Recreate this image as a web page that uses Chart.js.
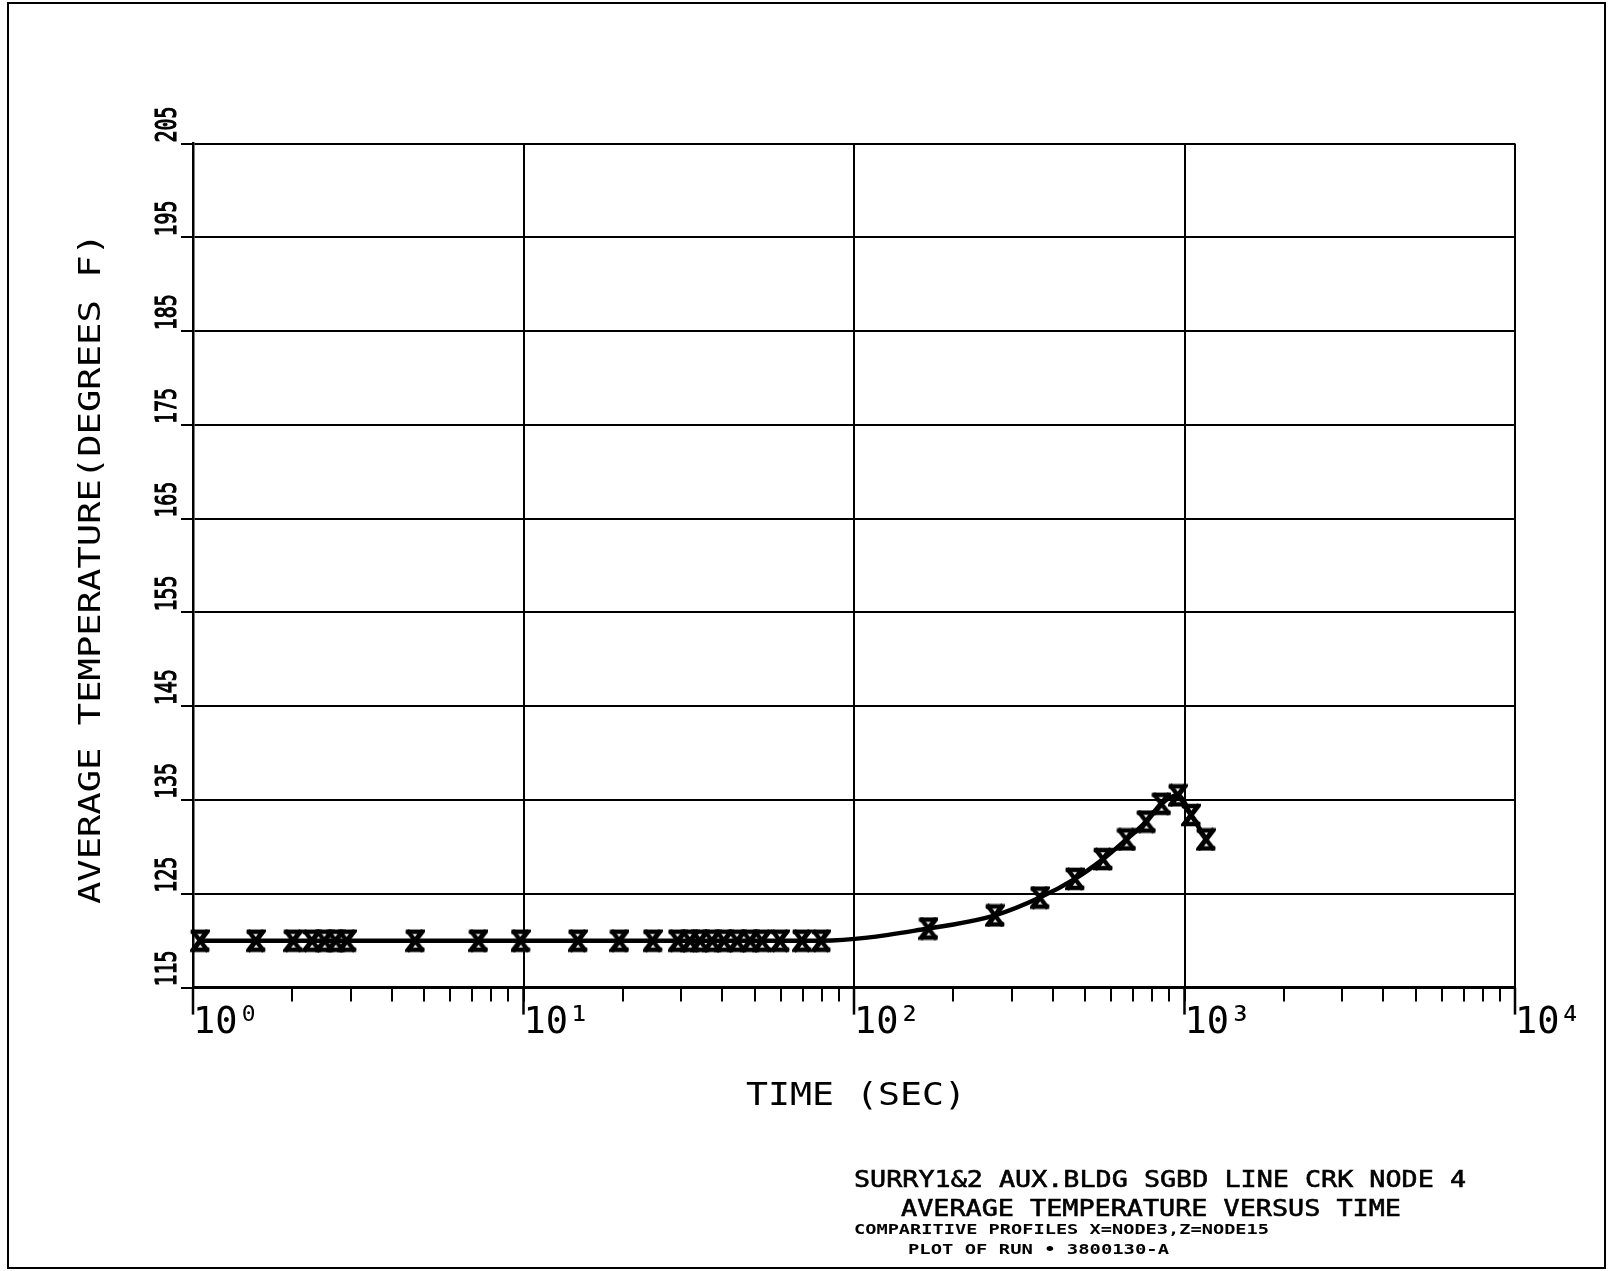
<!DOCTYPE html>
<html>
<head>
<meta charset="utf-8">
<title>Surry 1&2 average temperature versus time</title>
<script src="https://cdn.jsdelivr.net/npm/chart.js@4.4.1/dist/chart.umd.min.js"></script>
<style>
  html, body { margin: 0; padding: 0; background: #fff; }
  canvas { display: block; }
</style>
</head>
<body>
<canvas id="plot" width="1608" height="1271"></canvas>
<script>
// --- data ---
const timeSec = [1.05, 1.55, 2.01, 2.29, 2.5, 2.7, 2.92, 4.7, 7.3, 9.8, 14.6, 19.5, 24.6,
  29.3, 31.9, 34.2, 37.2, 40.4, 44.3, 48.5, 52.7, 59.7, 69.6, 79.5,
  168, 267, 365, 466, 567, 667, 766, 851, 955, 1047, 1162];
const tempNode3 = [120, 120, 120, 120, 120, 120, 120, 120, 120, 120, 120, 120, 120,
  120, 120, 120, 120, 120, 120, 120, 120, 120, 120, 120,
  121.3, 122.7, 124.6, 126.6, 128.7, 130.8, 132.7, 134.6, 135.5, 133.4, 130.8];
const tempNode15 = [120, 120, 120, 120, 120, 120, 120, 120, 120, 120, 120, 120, 120,
  120, 120, 120, 120, 120, 120, 120, 120, 120, 120, 120,
  121.3, 122.7, 124.6, 126.6, 128.7, 130.8, 132.7, 134.6, 135.5, 133.4, 130.8];
const tempTicks = [115, 125, 135, 145, 155, 165, 175, 185, 195, 205];
const decades = [1, 10, 100, 1000, 10000];
const superDigits = ['\u2070', '\u00b9', '\u00b2', '\u00b3', '\u2074'];
const titleLines = [
  'SURRY1&2 AUX.BLDG SGBD LINE CRK NODE 4',
  'AVERAGE TEMPERATURE VERSUS TIME',
  'COMPARITIVE PROFILES X=NODE3,Z=NODE15',
  'PLOT OF RUN \u2022 3800130-A'
];

const MONO = '"DejaVu Sans Mono", "Liberation Mono", monospace';

// marker glyphs: X for node 3, Z for node 15
function makeGlyph(kind) {
  const c = document.createElement('canvas');
  c.width = 20; c.height = 24;
  const g = c.getContext('2d');
  g.strokeStyle = '#000';
  g.lineWidth = 4.5;
  g.lineCap = 'square';
  g.lineJoin = 'miter';
  g.beginPath();
  if (kind === 'X') {
    g.moveTo(3.5, 3.5); g.lineTo(16.5, 20.5);
    g.moveTo(16.5, 3.5); g.lineTo(3.5, 20.5);
  } else {
    g.moveTo(3, 3); g.lineTo(17, 3); g.lineTo(3, 21); g.lineTo(17, 21);
  }
  g.stroke();
  return c;
}

function isDecade(v) {
  return decades.includes(v);
}

// text squeezed/stretched to the width it has on the plot
function fitText(ctx, text, x, y, width, rot, font, align, heavy) {
  ctx.save();
  ctx.font = font;
  ctx.textAlign = align;
  ctx.textBaseline = 'alphabetic';
  ctx.fillStyle = '#000';
  ctx.strokeStyle = '#000';
  ctx.translate(x, y);
  ctx.rotate(rot);
  const w = ctx.measureText(text).width;
  ctx.scale(width / w, 1);
  ctx.fillText(text, 0, 0);
  if (heavy) {
    ctx.lineWidth = heavy;
    ctx.strokeText(text, 0, 0);
  }
  ctx.restore();
}

// --- frame, long decade ticks, labels and title block ---
const plotText = {
  id: 'plotText',
  afterDraw(chart) {
    const { ctx, chartArea: a, scales: { x, y } } = chart;
    ctx.save();
    ctx.strokeStyle = '#000';
    ctx.lineWidth = 2;
    ctx.strokeRect(8, 3, 1597, 1265);
    ctx.lineWidth = 2.5;
    decades.forEach(d => {
      const px = x.getPixelForValue(d);
      ctx.beginPath();
      ctx.moveTo(px, a.bottom);
      ctx.lineTo(px, a.bottom + 27);
      ctx.stroke();
    });
    ctx.restore();

    tempTicks.forEach(v => {
      fitText(ctx, String(v), 176, y.getPixelForValue(v) - 1, 36, -Math.PI / 2, '29px ' + MONO, 'left', 1.2);
    });
    fitText(ctx, 'AVERAGE TEMPERATURE(DEGREES F)', 100, (a.top + a.bottom) / 2 + 3, 671, -Math.PI / 2, '30px ' + MONO, 'center');
    fitText(ctx, 'TIME (SEC)', (a.left + a.right) / 2 + 2, 1105, 220, 0, '32px ' + MONO, 'center');

    fitText(ctx, titleLines[0], 854, 1187, 612, 0, '23px ' + MONO, 'left', 0.6);
    fitText(ctx, titleLines[1], 901, 1215.5, 500, 0, '23px ' + MONO, 'left', 0.6);
    fitText(ctx, titleLines[2], 854, 1234, 415, 0, 'bold 14.5px ' + MONO, 'left');
    fitText(ctx, titleLines[3], 908, 1254, 261, 0, 'bold 14.5px ' + MONO, 'left');
  }
};

const glyphX = makeGlyph('X');
const glyphZ = makeGlyph('Z');

new Chart(document.getElementById('plot'), {
  type: 'line',
  data: {
    datasets: [
      {
        label: 'X=NODE3',
        data: timeSec.map((t, i) => ({ x: t, y: tempNode3[i] })),
        borderColor: '#000',
        borderWidth: 4.5,
        cubicInterpolationMode: 'monotone',
        pointStyle: glyphX,
        pointRadius: 10,
        clip: false
      },
      {
        label: 'Z=NODE15',
        data: timeSec.map((t, i) => ({ x: t, y: tempNode15[i] })),
        showLine: false,
        pointStyle: glyphZ,
        pointRadius: 10,
        clip: false
      }
    ]
  },
  options: {
    responsive: false,
    devicePixelRatio: 1,
    animation: false,
    layout: { padding: { left: 0, top: 143.6, right: 93, bottom: 203.4 } },
    plugins: { legend: { display: false }, tooltip: { enabled: false } },
    scales: {
      x: {
        type: 'logarithmic',
        min: 1,
        max: 10000,
        afterBuildTicks(scale) {
          const ticks = [];
          decades.slice(0, -1).forEach(d => {
            for (let m = 1; m <= 9; m++) ticks.push({ value: d * m });
          });
          ticks.push({ value: decades[decades.length - 1] });
          scale.ticks = ticks;
        },
        afterFit(scale) { scale.height = 80; },
        grid: {
          color: ctx => (ctx.tick && isDecade(ctx.tick.value)) ? '#000' : 'rgba(0,0,0,0)',
          lineWidth: 2,
          tickColor: '#000',
          tickWidth: 2,
          tickLength: 14
        },
        border: { display: true, color: '#000', width: 2.5 },
        ticks: {
          autoSkip: false,
          maxRotation: 0,
          minRotation: 0,
          align: 'start',
          padding: 0,
          color: '#000',
          font: { family: MONO, size: 37 },
          callback: v => isDecade(v) ? '10' + superDigits[Math.round(Math.log10(v))] : ''
        }
      },
      y: {
        min: 115,
        max: 205,
        afterBuildTicks(scale) {
          scale.ticks = tempTicks.map(v => ({ value: v }));
        },
        afterFit(scale) { scale.width = 193; },
        grid: {
          color: '#000',
          lineWidth: 2,
          tickColor: '#000',
          tickWidth: 2,
          tickLength: 12
        },
        border: { display: true, color: '#000', width: 2.5 },
        ticks: { display: false }
      }
    }
  },
  plugins: [plotText]
});
</script>
</body>
</html>
